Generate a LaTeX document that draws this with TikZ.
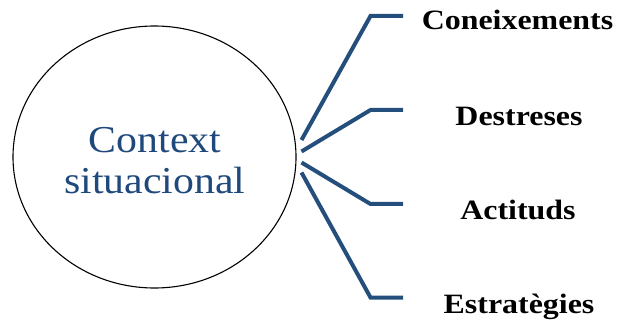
\documentclass[tikz,border=0pt]{standalone}
\usepackage{fontspec}
\usetikzlibrary{shapes.geometric}
\setmainfont{Liberation Serif}
\newfontfamily\camfont[FakeStretch=1.1]{Liberation Serif}
\newfontfamily\labfont[FakeStretch=1.14]{Liberation Serif}
\definecolor{darkblue}{HTML}{1F497D}
\definecolor{lineblue}{HTML}{244E7C}
\begin{document}
\begin{tikzpicture}[x=1pt,y=-1pt,
  circ/.style={draw=black,line width=1.1pt,ellipse,minimum width=283pt,minimum height=262pt,inner sep=0pt},
  ctext/.style={text=darkblue,font=\camfont\fontsize{38}{41}\selectfont,anchor=base,inner sep=0pt},
  lab/.style={font=\labfont\bfseries\fontsize{28}{30}\selectfont,anchor=base,inner sep=0pt},
  conn/.style={draw=lineblue,line width=4pt}]
\useasboundingbox (0,0) rectangle (618,320);
\node[circ] (c) at (154.5,157) {};
\node[ctext] (t1) at (155,153) {Context};
\node[ctext] (t2) at (155,194) {situacional};
\coordinate (s1) at (301.5,140);
\coordinate (s2) at (301.5,151.5);
\coordinate (s3) at (301.5,162.5);
\coordinate (s4) at (301.5,172.5);
\coordinate (b1) at (370.5,16);
\coordinate (b2) at (370.5,110);
\coordinate (b3) at (370.5,204);
\coordinate (b4) at (370.5,297.5);
\coordinate (e1) at (403,16);
\coordinate (e2) at (403,110);
\coordinate (e3) at (403,204);
\coordinate (e4) at (403,297.5);
\node[lab] (l1) at (517.5,30) {Coneixements};
\node[lab] (l2) at (519,126) {Destreses};
\node[lab] (l3) at (518,220) {Actituds};
\node[lab] (l4) at (519,313) {Estratègies};
\draw[conn] (s1) -- (b1) -- (e1);
\draw[conn] (s2) -- (b2) -- (e2);
\draw[conn] (s3) -- (b3) -- (e3);
\draw[conn] (s4) -- (b4) -- (e4);
\end{tikzpicture}
\end{document}
